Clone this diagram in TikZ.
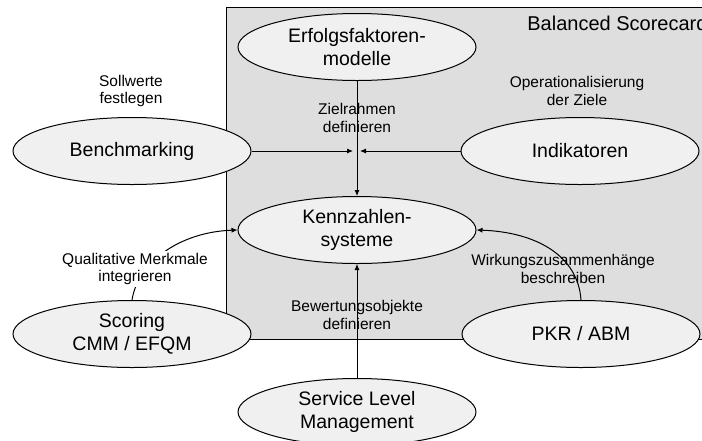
\documentclass[tikz,border=0pt]{standalone}
\usepackage{fontspec}
\setmainfont{Liberation Sans}
\usetikzlibrary{shapes.geometric,arrows.meta}
\definecolor{ellfill}{HTML}{F0F0F0}
\definecolor{rectfill}{HTML}{DEDEDE}
\begin{document}
\begin{tikzpicture}[x=0.5pt,y=-0.5pt,
  ell/.style={ellipse,draw=black,line width=0.5pt,fill=ellfill,minimum width=119pt,minimum height=33.5pt,inner sep=0pt,align=center,font=\fontsize{9.75pt}{11.5pt}\selectfont},
  lbl/.style={align=center,inner sep=1pt,font=\fontsize{7.75pt}{8.7pt}\selectfont},
  con/.style={line width=0.5pt,-{Latex[length=3pt,width=2.6pt]}}]
\useasboundingbox (0,0) rectangle (702,440);
\fill[rectfill] (226,7) rectangle (720,339);
\draw[line width=0.5pt] (720,7) -- (226,7) -- (226,339) -- (720,339);

\node[ell] (erf) at (357,47) {Erfolgsfaktoren-\\modelle};
\node[ell] (bench) at (132,151) {Benchmarking};
\node[ell] (ind) at (580,151) {Indikatoren};
\node[ell] (kenn) at (357,230) {Kennzahlen-\\systeme};
\node[ell] (scor) at (132,334) {Scoring\\CMM / EFQM};
\node[ell] (pkr) at (581,334) {PKR / ABM};
\node[ell] (slm) at (357,412) {Service Level\\Management};

\coordinate (jl) at (353,151);
\coordinate (jr) at (360,151);

\draw[con] (erf) -- (kenn);
\draw[con] (bench.east) -- (jl);
\draw[con] (ind.west) -- (jr);
\draw[con] (slm) -- (kenn);
\draw[con] (scor.north) .. controls (138,262) and (180,232) .. (kenn.west);
\draw[con] (pkr.north) .. controls (578,255) and (535,232) .. (kenn.east);

\node[lbl] (soll) at (131,91) {Sollwerte\\festlegen};
\node[lbl] (ziel) at (357,118) {Zielrahmen\\definieren};
\node[lbl] (oper) at (577,91) {Operationalisierung\\der Ziele};
\node[lbl,fill=white] (qual) at (135,269) {Qualitative Merkmale\\integrieren};
\node[lbl] (wirk) at (563,269) {Wirkungszusammenhänge\\beschreiben};
\node[lbl] (bew) at (357,315) {Bewertungsobjekte\\definieren};
\node[anchor=west,inner sep=0pt,font=\fontsize{10pt}{12pt}\selectfont] (bsc) at (527,23) {Balanced Scorecard};
\end{tikzpicture}
\end{document}
